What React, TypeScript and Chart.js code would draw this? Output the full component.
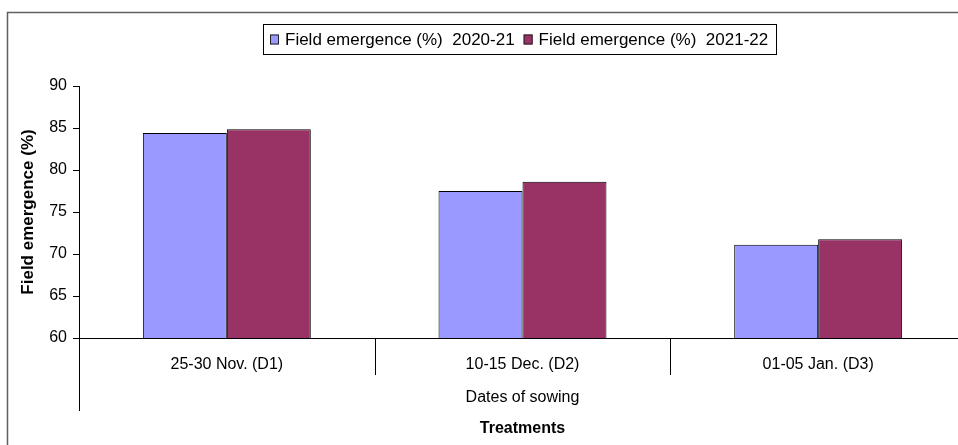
import React, { useEffect, useRef } from "react";
import { Chart, registerables } from "chart.js";

Chart.register(...registerables);

const categories = ["25-30 Nov. (D1)", "10-15 Dec. (D2)", "01-05 Jan. (D3)"];
const series2020 = [84.4, 77.5, 71.1];
const series2021 = [84.85, 78.6, 71.75];
const seriesLabels = ["Field emergence (%)  2020-21", "Field emergence (%)  2021-22"];
const seriesColors = ["#9999FF", "#993366"];
const yTitle = "Field emergence (%)";
const groupLabel = "Dates of sowing";
const xTitle = "Treatments";

const FONT = "'Liberation Sans', Arial, sans-serif";
const CW = 975;
const CH = 450;

const decorPlugin = {
  id: "decor",
  afterDraw(chart: any) {
    const { ctx, chartArea, scales } = chart;
    const x = scales.x;
    ctx.save();
    // outer border
    ctx.strokeStyle = "#606060";
    ctx.lineWidth = 1.5;
    ctx.strokeRect(7.5, 12.5, 960, 445);

    // category dividers
    ctx.strokeStyle = "#000";
    ctx.lineWidth = 1;
    const n = chart.data.labels.length;
    for (let i = 0; i <= n; i++) {
      const px = Math.round(x.getPixelForValue(i - 0.5)) + 0.5;
      ctx.beginPath();
      ctx.moveTo(px, chartArea.bottom);
      ctx.lineTo(px, i === 0 ? chartArea.bottom + 73 : chartArea.bottom + 37);
      ctx.stroke();
    }

    // group label
    ctx.fillStyle = "#000";
    ctx.font = `16px ${FONT}`;
    ctx.textAlign = "center";
    ctx.textBaseline = "middle";
    ctx.fillText(groupLabel, (chartArea.left + chartArea.right) / 2, chartArea.bottom + 60);

    // legend
    ctx.font = `17px ${FONT}`;
    const ds = chart.data.datasets;
    const sq = 9;
    const gapSq = 6;
    const gapItem = 9;
    const padL = 7;
    const padR = 8;
    const widths = ds.map((d: any) => ctx.measureText(d.label).width);
    let total = padL + padR;
    widths.forEach((w: number, i: number) => {
      total += sq + gapSq + w + (i < widths.length - 1 ? gapItem : 0);
    });
    const cx = 520;
    const left = Math.round(cx - total / 2);
    const top = 24;
    const h = 30;
    ctx.strokeStyle = "#000";
    ctx.lineWidth = 1;
    ctx.strokeRect(left + 0.5, top + 0.5, Math.round(total), h);
    let cur = left + padL;
    const cy = top + h / 2 + 0.5;
    ctx.textAlign = "left";
    ds.forEach((d: any, i: number) => {
      ctx.fillStyle = d.backgroundColor;
      ctx.fillRect(cur, cy - 5, sq, 10);
      ctx.strokeStyle = "#222";
      ctx.strokeRect(cur + 0.5, cy - 4.5, sq - 1, 9);
      cur += sq + gapSq;
      ctx.fillStyle = "#000";
      ctx.fillText(d.label, cur, cy + 1);
      cur += widths[i] + gapItem;
    });
    ctx.restore();
  },
};

export default function App() {
  const ref = useRef<HTMLCanvasElement | null>(null);
  useEffect(() => {
    if (!ref.current) return;
    const chart = new Chart(ref.current, {
      type: "bar",
      data: {
        labels: categories,
        datasets: [
          {
            label: seriesLabels[0],
            data: series2020,
            backgroundColor: seriesColors[0],
            borderColor: "#000",
            borderWidth: 1,
            categoryPercentage: 0.568,
            barPercentage: 1,
          },
          {
            label: seriesLabels[1],
            data: series2021,
            backgroundColor: seriesColors[1],
            borderColor: "#000",
            borderWidth: 1,
            categoryPercentage: 0.568,
            barPercentage: 1,
          },
        ],
      },
      options: {
        responsive: false,
        animation: false,
        devicePixelRatio: 1,
        layout: { padding: { left: 0, right: 9, top: 86, bottom: 0 } },
        plugins: {
          legend: { display: false },
          tooltip: { enabled: false },
        },
        scales: {
          x: {
            afterFit: (s: any) => {
              s.height = 112;
            },
            border: { display: true, color: "#000", width: 1 },
            grid: { display: false, drawTicks: false },
            ticks: {
              color: "#000",
              padding: 17,
              font: { family: FONT, size: 16 },
              maxRotation: 0,
            },
            title: {
              display: true,
              text: xTitle,
              color: "#000",
              font: { family: FONT, size: 16, weight: "bold" },
              padding: { top: 0, bottom: 12 },
            },
          },
          y: {
            min: 60,
            max: 90,
            afterFit: (s: any) => {
              s.width = 79;
            },
            border: { display: true, color: "#000", width: 1 },
            grid: {
              drawOnChartArea: false,
              drawTicks: true,
              tickLength: 6,
              color: "#000",
            },
            ticks: {
              stepSize: 5,
              color: "#000",
              padding: 6,
              font: { family: FONT, size: 16 },
            },
            title: {
              display: true,
              text: yTitle,
              color: "#000",
              font: { family: FONT, size: 17, weight: "bold" },
              padding: { top: 18, bottom: 0 },
            },
          },
        },
      },
      plugins: [decorPlugin],
    });
    return () => chart.destroy();
  }, []);
  return (
    <div
      style={{
        position: "fixed",
        left: 0,
        top: 0,
        width: 958,
        height: 445,
        overflow: "hidden",
        background: "#fff",
      }}
    >
      <canvas
        ref={ref}
        width={CW}
        height={CH}
        style={{ display: "block", width: CW, height: CH }}
      />
    </div>
  );
}
